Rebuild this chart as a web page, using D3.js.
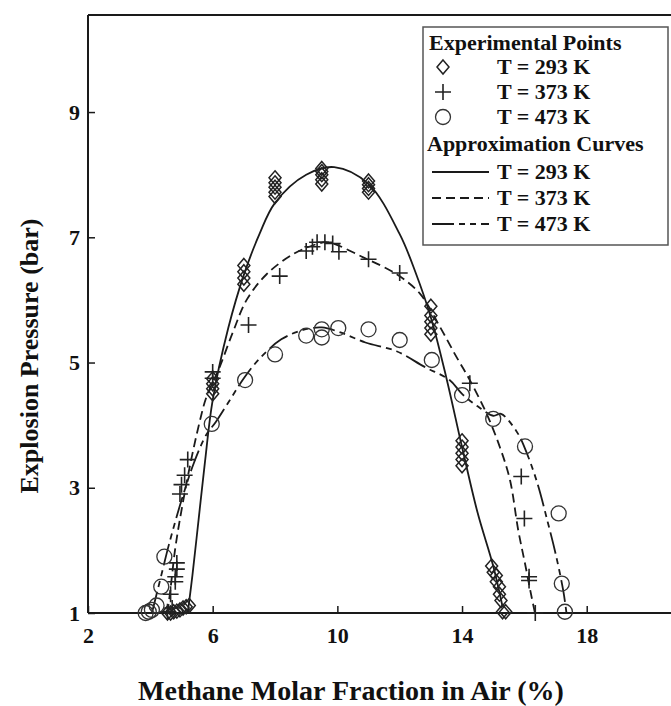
<!DOCTYPE html>
<html><head><meta charset="utf-8">
<script src="https://cdn.jsdelivr.net/npm/d3@7"></script>
<style>body{margin:0;background:#fff}svg{display:block}text{font-family:"Liberation Serif","Times New Roman",serif;font-weight:bold;fill:#111}</style>
</head><body>
<svg id="c" width="671" height="706"></svg>
<script>
// ---- data ----
const xTicks = [2, 6, 10, 14, 18];
const yTicks = [1, 3, 5, 7, 9];
const xTitle = "Methane Molar Fraction in Air (%)";
const yTitle = "Explosion Pressure (bar)";
const legendTitles = ["Experimental Points", "Approximation Curves"];
const seriesLabels = ["T = 293 K", "T = 373 K", "T = 473 K"];

const pts293 = [[4.55,1.0],[4.65,1.0],[4.75,1.02],[4.85,1.03],[4.95,1.05],[5.05,1.08],[5.15,1.1],[5.25,1.12],
 [6.0,4.5],[6.0,4.58],[6.0,4.66],[6.0,4.74],
 [7.0,6.25],[7.0,6.35],[7.0,6.45],[7.0,6.55],
 [8.0,7.65],[8.0,7.72],[8.0,7.8],[8.0,7.87],[8.0,7.95],
 [9.5,7.85],[9.5,7.92],[9.5,8.0],[9.5,8.05],[9.5,8.1],
 [11.0,7.72],[11.0,7.78],[11.0,7.84],[11.0,7.9],
 [13.0,5.45],[13.0,5.55],[13.0,5.65],[13.0,5.75],[13.0,5.9],
 [14.0,3.35],[14.0,3.45],[14.0,3.55],[14.0,3.65],[14.0,3.75],
 [14.95,1.75],[15.0,1.65],[15.1,1.6],[15.1,1.5],[15.2,1.42],[15.2,1.3],[15.25,1.2],[15.3,1.02],[15.4,1.02]];
const pts373 = [[4.55,1.02],[4.7,1.08],[4.65,1.3],[4.8,1.5],[4.8,1.58],[4.85,1.7],[4.85,1.8],
 [4.95,2.9],[5.0,3.05],[5.1,3.2],[5.2,3.45],[6.0,4.75],[6.0,4.85],[7.15,5.6],[8.15,6.38],
 [9.0,6.78],[9.2,6.85],[9.35,6.92],[9.6,6.92],[9.85,6.9],[10.05,6.77],[11.0,6.65],[12.0,6.43],
 [14.25,4.67],[15.9,3.18],[16.0,2.51],[16.15,1.58],[16.15,1.52],[16.35,1.0]];
const pts473 = [[3.85,1.0],[3.95,1.02],[4.05,1.05],[4.2,1.12],[4.35,1.42],[4.45,1.9],[5.97,4.02],
 [7.04,4.72],[8.0,5.13],[9.0,5.43],[9.5,5.4],[9.5,5.53],[10.03,5.55],[11.0,5.53],[12.0,5.36],
 [13.03,5.04],[14.0,4.48],[15.0,4.1],[16.02,3.66],[17.1,2.59],[17.2,1.47],[17.3,1.02]];

const curve293 = [[5.2,1.0],[5.35,1.6],[5.55,2.5],[5.75,3.4],[6.0,4.4],[6.5,5.55],[7.0,6.4],[7.5,7.05],
 [8.0,7.55],[9.0,8.0],[9.9,8.12],[11.0,7.85],[12.0,7.05],[12.5,6.45],[13.0,5.72],[13.5,4.75],
 [14.0,3.65],[14.5,2.6],[15.0,1.75],[15.3,1.1]];
const curve373 = [[4.55,1.0],[4.65,1.4],[4.79,2.0],[4.95,2.5],[5.27,3.35],[5.59,4.07],[5.8,4.45],[6.2,4.9],
 [6.66,5.5],[7.09,6.0],[7.73,6.41],[8.58,6.73],[9.33,6.89],[9.7,6.92],[10.83,6.68],[11.9,6.41],
 [12.65,6.1],[13.29,5.57],[13.82,5.09],[14.25,4.72],[14.79,4.18],[15.22,3.64],[15.54,3.12],
 [15.8,2.33],[16.02,1.79],[16.23,1.26],[16.34,1.0]];
const curve473 = [[4.05,1.0],[4.2,1.3],[4.4,1.7],[4.6,2.1],[5.0,2.8],[5.4,3.4],[5.8,3.85],[6.1,4.05],
 [6.6,4.44],[7.0,4.75],[7.5,5.06],[8.2,5.37],[8.9,5.52],[9.5,5.56],[10.1,5.48],[10.9,5.32],
 [11.9,5.18],[12.8,4.93],[13.6,4.72],[14.0,4.5],[14.5,4.3],[15.0,4.15],[15.25,4.18],[15.75,3.9],
 [16.0,3.65],[16.4,3.1],[16.75,2.45],[17.0,1.95],[17.25,1.35],[17.35,1.0]];

// ---- drawing ----
const svg = d3.select("#c");
const x = d3.scaleLinear().domain([2, 22]).range([88, 711.4]);
const y = d3.scaleLinear().domain([1, 10.55]).range([613, 15]);
const ink = "#1a1a1a";

// frame
svg.append("line").attr("x1", x(2)).attr("x2", 671).attr("y1", y(10.55)).attr("y2", y(10.55)).attr("stroke", ink).attr("stroke-width", 2);
const gx = svg.append("g").attr("transform", `translate(0,${y(1)})`)
  .call(d3.axisBottom(x).tickValues(xTicks).tickSize(-7).tickPadding(14).tickFormat(d3.format("d")));
const gy = svg.append("g").attr("transform", `translate(${x(2)},0)`)
  .call(d3.axisLeft(y).tickValues(yTicks).tickSize(-7).tickPadding(8).tickFormat(d3.format("d")));
[gx, gy].forEach(g => {
  g.select(".domain").attr("stroke", ink).attr("stroke-width", 2);
  g.selectAll(".tick line").attr("stroke", ink).attr("stroke-width", 1.5);
  g.selectAll(".tick text").attr("font-size", 22).attr("font-family", "Liberation Serif").attr("font-weight", "bold").attr("fill", "#111");
});
gx.select(".domain").attr("d", `M${x(2)},0H671`);
gy.select(".domain").attr("d", `M0,${y(1)}V${y(10.55)}`);
gx.selectAll(".tick text").attr("dy", "0.71em");

svg.append("text").attr("x", 351).attr("y", 700).attr("text-anchor", "middle").attr("font-size", 28).text(xTitle);
svg.append("text").attr("transform", `translate(38,${356}) rotate(-90)`).attr("text-anchor", "middle").attr("font-size", 26).text(yTitle);

// curves
const line = d3.line().x(d => x(d[0])).y(d => y(d[1])).curve(d3.curveCatmullRom.alpha(0.5));
const curveStyles = [null, "9,5", "22,5,6,5,6,5"];
[curve293, curve373, curve473].forEach((c, i) => {
  svg.append("path").attr("d", line(c)).attr("fill", "none").attr("stroke", ink).attr("stroke-width", 1.8)
    .attr("stroke-dasharray", curveStyles[i]);
});

// markers
const mStroke = "#222";
function diamond(g, cx, cy) {
  g.append("path").attr("d", `M${cx},${cy-7}L${cx+6},${cy}L${cx},${cy+7}L${cx-6},${cy}Z`)
   .attr("fill", "none").attr("stroke", mStroke).attr("stroke-width", 1.5);
}
function plus(g, cx, cy) {
  g.append("path").attr("d", `M${cx-8},${cy}H${cx+8}M${cx},${cy-8}V${cy+8}`)
   .attr("fill", "none").attr("stroke", mStroke).attr("stroke-width", 1.6);
}
function circ(g, cx, cy) {
  g.append("circle").attr("cx", cx).attr("cy", cy).attr("r", 7.5)
   .attr("fill", "none").attr("stroke", "#333").attr("stroke-width", 1.3);
}
const gm = svg.append("g");
pts293.forEach(d => diamond(gm, x(d[0]), y(d[1])));
pts373.forEach(d => plus(gm, x(d[0]), y(d[1])));
pts473.forEach(d => circ(gm, x(d[0]), y(d[1])));

// legend
const lg = svg.append("g");
lg.append("rect").attr("x", 423).attr("y", 27).attr("width", 245).attr("height", 218)
  .attr("fill", "#fff").attr("stroke", "#555").attr("stroke-width", 1.5);
const fs = 22;
lg.append("text").attr("x", 429).attr("y", 50).attr("font-size", fs).text(legendTitles[0]);
const rowY1 = [74, 99, 124];
const markers = [diamond, plus, circ];
rowY1.forEach((ry, i) => {
  markers[i](lg, 443, ry - 7);
  lg.append("text").attr("x", 497).attr("y", ry).attr("font-size", fs).text(seriesLabels[i]);
});
lg.append("text").attr("x", 427).attr("y", 151).attr("font-size", fs).text(legendTitles[1]);
const rowY2 = [179, 205, 231];
rowY2.forEach((ry, i) => {
  lg.append("line").attr("x1", 432).attr("x2", 489).attr("y1", ry - 7).attr("y2", ry - 7)
    .attr("stroke", ink).attr("stroke-width", 1.8).attr("stroke-dasharray", curveStyles[i]);
  lg.append("text").attr("x", 497).attr("y", ry).attr("font-size", fs).text(seriesLabels[i]);
});
</script>
</body></html>
